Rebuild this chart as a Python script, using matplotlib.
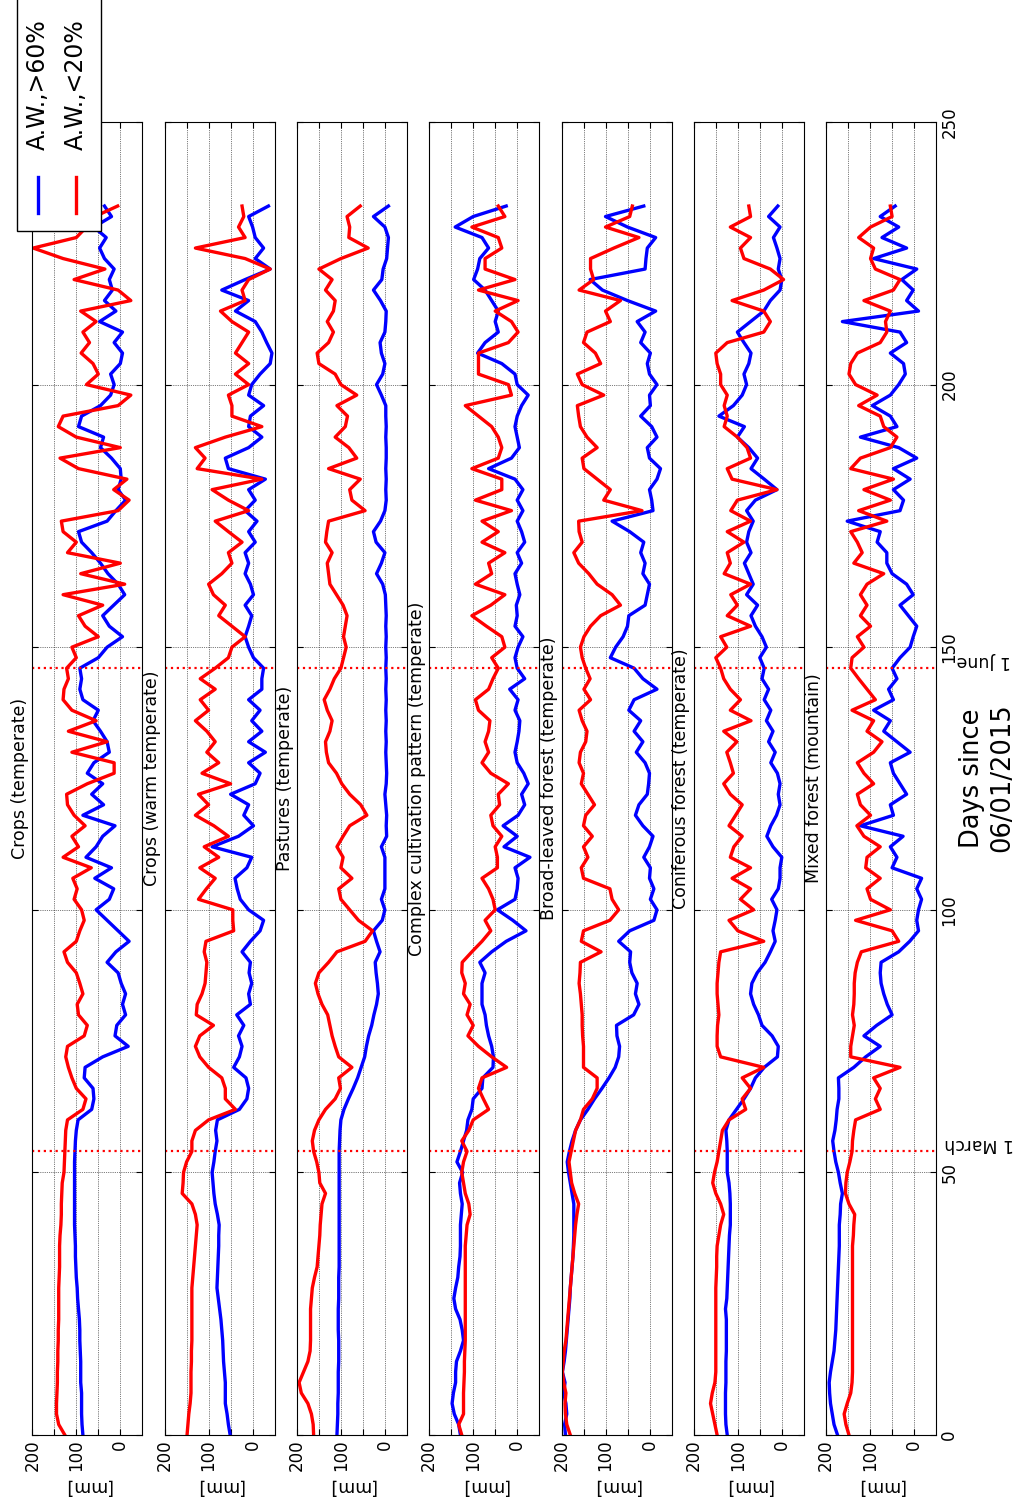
import numpy as np
import matplotlib
matplotlib.use("Agg")
import matplotlib.pyplot as plt
import matplotlib.transforms as mtransforms
from matplotlib.patches import Rectangle
from matplotlib.lines import Line2D

# days since 06/01/2015, one value every 2 days
days = np.arange(0, 235, 2)

titles = ["Crops (temperate)", "Crops (warm temperate)", "Pastures (temperate)",
          "Complex cultivation pattern (temperate)", "Broad-leaved forest (temperate)",
          "Coniferous forest (temperate)", "Mixed forest (mountain)"]
legend_labels = ["A.W.,>60%", "A.W.,<20%"]
march_day = 54
june_day = 146

# [mm] values, blue = A.W.>60%, red = A.W.<20%
crops_temp_hi = [85, 87, 88, 88, 88, 90, 90, 90, 91, 92,
                 92, 93, 95, 97, 98, 100, 101, 102, 102, 103,
                 104, 104, 104, 104, 104, 104, 104, 103, 102, 100,
                 96, 65, 60, 62, 82, 80, 40, -18, 12, 8,
                 -12, -5, -12, -2, 5, 30, 10, -20, 5, 30,
                 55, 25, 15, 58, 20, 78, 55, 40, 12, 85,
                 38, 65, 40, 75, 60, 25, 30, 45, 62, 50,
                 85, 92, 88, 92, 50, 30, -5, 25, 40, 15,
                 -10, 5, 28, 45, 65, 88, 95, 30, 10, -12,
                 5, -2, 0, 20, 45, 38, 95, 88, 45, 22,
                 14, 22, 0, -5, 14, -5, 47, 10, 36, 18,
                 25, 14, 36, 47, 32, 60, 20, 36]
crops_temp_lo = [126, 140, 145, 145, 144, 143, 143, 142, 142, 141,
                 141, 140, 140, 140, 140, 139, 138, 138, 138, 137,
                 135, 134, 134, 133, 132, 128, 127, 126, 125, 124,
                 120, 85, 78, 100, 110, 118, 124, 120, 82, 75,
                 95, 98, 85, 92, 100, 120, 128, 100, 92, 82,
                 88, 105, 98, 108, 66, 130, 95, 110, 80, 105,
                 120, 122, 75, 14, 14, 110, 30, 118, 55, 110,
                 130, 128, 118, 122, 100, 110, 50, 80, 95, 40,
                 130, -10, 90, 0, 120, 100, 130, 134, 5, -20,
                 15, -15, 95, 137, 0, 100, 141, 130, 5, -24,
                 77, 50, 62, 89, 70, 85, 55, 90, -24, 5,
                 105, 35, 130, 198, 100, 77, 58, 6]

crops_warm_hi = [51, 55, 58, 62, 62, 62, 64, 66, 67, 68,
                 70, 72, 75, 78, 81, 80, 79, 78, 77, 77,
                 76, 80, 85, 88, 90, 92, 88, 85, 81, 84,
                 80, 30, 13, 9, 15, 43, 30, 24, 32, 20,
                 36, 5, 9, 2, 8, 5, 24, 5, -17, -25,
                 9, 28, 35, 40, 13, 2, 92, 32, -2, 20,
                 9, 50, -6, -17, 9, -29, 9, -21, 2, -17,
                 9, -21, -21, -25, -2, 9, 17, 9, 2, 17,
                 -2, 5, 17, 9, 17, -6, 9, -10, 17, -6,
                 9, -29, 55, 62, 9, -21, 9, 5, -25, 9,
                 2, -17, -40, -44, -32, -21, -6, 39, 9, 70,
                 17, -40, -6, -25, -6, 0, 9, -36]
crops_warm_lo = [149, 147, 145, 142, 140, 140, 140, 139, 139, 138,
                 138, 138, 138, 138, 138, 136, 134, 132, 130, 128,
                 126, 130, 138, 160, 158, 157, 150, 138, 138, 130,
                 100, 39, 62, 62, 70, 100, 120, 130, 120, 89,
                 128, 126, 115, 108, 106, 104, 110, 106, 43, 45,
                 45, 123, 105, 85, 120, 77, 110, 55, 88, 130,
                 100, 123, 50, 115, 77, 104, 85, 104, 130, 100,
                 119, 85, 119, 85, 55, 47, 17, 47, 77, 62,
                 89, 100, 70, 47, 55, 24, 55, 85, 9, 55,
                 92, -21, 126, 108, 130, 62, -21, 47, 47, 55,
                 9, 39, 9, 39, 24, 9, 47, 73, 17, 24,
                 9, -40, 17, 130, 17, 32, 20, 24]

pastures_hi = [109, 108, 107, 107, 106, 106, 106, 105, 105, 105,
               106, 106, 106, 105, 105, 105, 104, 104, 104, 104,
               104, 104, 104, 104, 104, 104, 104, 104, 103, 102,
               100, 93, 83, 72, 62, 54, 46, 42, 37, 30,
               25, 19, 15, 17, 20, 22, 11, 19, 26, 6,
               0, 8, 0, 0, 0, 0, 8, -4, -3, -4,
               -2, 0, -3, -4, -3, -2, -3, -2, -3, -2,
               -3, -2, -3, -2, -3, -2, -3, -2, -3, -2,
               -1, 5, 19, 8, 0, 20, 26, 10, 0, -3,
               -2, -3, -2, -3, -3, -2, -3, -2, -2, 8,
               19, 5, 0, 8, 11, 0, -2, -3, 10, 26,
               7, 4, -4, -6, -8, 0, 26, -8]
pastures_lo = [162, 163, 167, 175, 190, 195, 185, 175, 170, 169,
               169, 169, 169, 167, 165, 160, 154, 152, 150, 148,
               147, 145, 143, 135, 148, 150, 155, 162, 165, 160,
               150, 135, 113, 101, 105, 75, 105, 113, 120, 125,
               130, 143, 152, 158, 150, 128, 109, 45, 28, 60,
               80, 100, 105, 75, 100, 95, 109, 95, 80, 41,
               55, 80, 98, 110, 128, 133, 135, 125, 120, 131,
               138, 125, 115, 100, 94, 88, 94, 90, 86, 95,
               110, 125, 128, 131, 120, 135, 132, 128, 45, 75,
               80, 56, 128, 64, 82, 113, 90, 85, 109, 64,
               100, 113, 150, 154, 128, 117, 131, 117, 113, 135,
               120, 150, 100, 38, 82, 80, 86, 56]

complex_hi = [129, 133, 143, 148, 145, 140, 140, 138, 129, 122,
              125, 130, 140, 144, 140, 135, 133, 130, 129, 129,
              129, 127, 125, 129, 131, 124, 137, 129, 122, 115,
              112, 103, 100, 80, 78, 55, 54, 58, 65, 70,
              73, 80, 80, 80, 73, 85, 58, 25, -20, 10,
              45, 5, 0, -2, 5, -29, 30, 0, 32, -2,
              -17, -10, -25, -15, 0, 5, 0, -4, -6, 5,
              -2, 17, -17, 0, 5, -2, -13, 5, 0, 2,
              -6, 0, 5, -10, 0, -17, -10, 0, -13, 0,
              -13, 5, 65, 13, -5, 0, 5, 0, -10, -25,
              0, 5, 35, 90, 73, 43, 50, 43, 58, 73,
              99, 90, 85, 65, 80, 141, 100, 25]
complex_lo = [126, 133, 122, 122, 122, 121, 120, 120, 119, 118,
              118, 118, 118, 118, 118, 118, 118, 118, 118, 116,
              114, 107, 110, 118, 122, 126, 122, 114, 126, 110,
              100, 65, 77, 88, 80, 24, 58, 88, 112, 100,
              114, 107, 122, 118, 126, 125, 103, 80, 60, 73,
              50, 55, 65, 80, 45, 45, 50, 35, 55, 60,
              40, 43, 20, 60, 80, 65, 73, 65, 62, 88,
              95, 65, 55, 43, 58, 28, 35, 70, 103, 60,
              28, 95, 58, 65, 28, 80, 43, 80, 13, 95,
              35, 35, 103, 43, 35, 43, 58, 88, 118, 13,
              20, 88, 88, 88, 20, -2, 13, 50, -2, 88,
              5, 73, 73, 35, 43, 103, 28, 43]

broadleaf_hi = [191, 193, 188, 190, 195, 192, 198, 194, 191, 189,
                187, 185, 183, 181, 180, 178, 176, 174, 173, 172,
                172, 172, 172, 176, 180, 184, 187, 182, 176, 168,
                157, 140, 125, 108, 92, 78, 70, 68, 74, 75,
                36, 24, 32, 28, 40, 45, 43, 70, 45, -10,
                -17, -2, -10, 0, -2, 13, 0, -8, 15, 32,
                24, 5, 2, 0, 10, 30, 15, 35, 20, 47,
                35, -17, 15, 35, 89, 77, 60, 50, 47, 10,
                5, 0, 15, 10, 20, 13, 45, 85, -8, -5,
                0, -17, -25, 0, 5, -17, -5, 20, -2, 0,
                -17, 0, 5, -2, 20, 10, 28, -14, 50, 107,
                135, 10, 8, 5, -14, 50, 100, 13]
broadleaf_lo = [180, 188, 191, 192, 190, 195, 198, 196, 194, 190,
                188, 186, 184, 182, 180, 178, 176, 174, 172, 170,
                168, 165, 161, 170, 177, 180, 183, 178, 173, 168,
                157, 150, 130, 119, 119, 150, 150, 150, 152, 153,
                153, 155, 157, 160, 158, 157, 110, 155, 150, 90,
                70, 85, 90, 150, 155, 140, 150, 130, 150, 145,
                125, 140, 155, 150, 160, 157, 145, 142, 153, 160,
                134, 149, 135, 145, 153, 157, 149, 134, 111, 66,
                85, 119, 138, 161, 172, 153, 160, 161, 17, 104,
                89, 119, 149, 153, 119, 142, 157, 161, 164, 104,
                153, 164, 111, 123, 150, 142, 89, 100, 66, 160,
                127, 134, 134, 81, 24, 100, 45, 39]

conif_hi = [124, 127, 128, 128, 128, 127, 127, 127, 126, 126,
            126, 126, 128, 125, 124, 123, 122, 121, 120, 119,
            117, 117, 117, 118, 120, 124, 124, 124, 125, 127,
            120, 103, 86, 71, 60, 40, 10, 8, 22, 45,
            53, 64, 71, 68, 56, 38, 26, 15, 20, 15,
            11, 23, 8, 4, 4, 0, 20, 34, 25, 12,
            4, 8, 4, 10, 25, 15, 30, 20, 35, 25,
            40, 30, 45, 40, 50, 35, 45, 60, 70, 55,
            80, 65, 75, 85, 70, 80, 75, 65, 80, 60,
            11, 40, 70, 55, 75, 101, 85, 143, 110, 90,
            80, 86, 75, 70, 86, 101, 71, 41, 26, 4,
            0, 8, 4, 11, 19, 4, 30, 9]
conif_lo = [147, 152, 157, 162, 158, 152, 150, 150, 150, 150,
            150, 150, 150, 150, 150, 149, 148, 148, 147, 143,
            139, 132, 139, 150, 157, 153, 147, 143, 139, 135,
            120, 82, 90, 71, 90, 41, 139, 147, 147, 146,
            143, 145, 147, 147, 145, 143, 139, 41, 100, 120,
            64, 94, 71, 113, 71, 117, 109, 90, 120, 105,
            90, 117, 132, 110, 117, 125, 102, 132, 70, 117,
            94, 117, 132, 139, 150, 125, 139, 71, 124, 101,
            116, 71, 131, 117, 124, 86, 124, 71, 116, 101,
            11, 113, 124, 71, 79, 101, 131, 124, 131, 124,
            139, 139, 147, 150, 124, 41, 26, 41, 113, 41,
            -4, 26, 86, 94, 71, 117, 71, 75]

mixed_hi = [174, 182, 186, 190, 192, 193, 190, 186, 182, 180,
            178, 177, 176, 175, 174, 173, 172, 171, 170, 170,
            170, 168, 167, 163, 168, 172, 178, 182, 185, 180,
            177, 175, 171, 171, 172, 137, 110, 77, 114, 85,
            50, 61, 69, 75, 77, 75, 35, 10, -10, -6,
            -10, -17, -6, -17, 50, 39, 54, 25, 122, 47,
            54, 17, 32, 47, 54, 9, 39, 69, 54, 92,
            47, 58, 39, 50, 32, 9, 2, -6, 13, 32,
            2, 17, 50, 62, 62, 84, 77, 152, 32, 24,
            47, 9, 47, -6, 35, 122, 39, 54, 95, 54,
            35, 20, 24, 54, 17, 32, 163, -10, 17, 2,
            28, -6, 92, 17, 73, 35, 77, 43]
mixed_lo = [148, 155, 159, 152, 144, 141, 140, 140, 140, 140,
            140, 140, 140, 140, 140, 140, 140, 140, 140, 138,
            137, 135, 148, 156, 155, 152, 146, 141, 140, 137,
            133, 77, 88, 77, 92, 32, 144, 144, 140, 136,
            140, 137, 136, 136, 134, 129, 120, 35, 50, 133,
            54, 99, 107, 77, 110, 107, 77, 114, 130, 99,
            122, 129, 92, 114, 129, 92, 73, 107, 92, 141,
            88, 107, 126, 144, 141, 114, 129, 99, 122, 107,
            122, 107, 69, 137, 118, 129, 144, 62, 126, 54,
            114, 47, 144, 122, 54, 39, 69, 77, 126, 84,
            133, 148, 144, 129, 77, 62, 65, 54, 114, 47,
            32, 88, 99, 92, 126, 99, 50, 54]

pairs = [(crops_temp_hi, crops_temp_lo), (crops_warm_hi, crops_warm_lo),
         (pastures_hi, pastures_lo), (complex_hi, complex_lo),
         (broadleaf_hi, broadleaf_lo), (conif_hi, conif_lo), (mixed_hi, mixed_lo)]
mm_top = [200, 200, 200, 199, 200, 200, 200]

W, H = 1026, 1503
fig = plt.figure(figsize=(W / 100, H / 100), dpi=100)
fig.patch.set_facecolor("white")

axes = []
for i, (title, (hi, lo)) in enumerate(zip(titles, pairs)):
    left = 32.3 + i * 132.3
    ax = fig.add_axes([left / W, 68 / H, 110 / W, 1313 / H])
    ax.plot(hi, days, color="b", lw=2.4)
    ax.plot(lo, days, color="r", lw=2.4)
    ax.axhline(march_day, color="r", ls=":", lw=1.6)
    ax.axhline(june_day, color="r", ls=":", lw=1.6)
    ax.set_xlim(mm_top[i], -50)
    ax.set_ylim(0, 250)
    ax.set_xticks([0, 50, 100, 150, 200])
    ax.set_xticklabels(["0", "", "100", "", "200"], rotation=90, fontsize=12)
    ax.set_yticks(range(0, 251, 50))
    ax.grid(True, color="k", ls=":", lw=0.5)
    ax.tick_params(direction="in", top=True, right=True, length=4, width=0.8)
    ax.tick_params(axis="y", pad=3)
    ax.set_xlabel("[mm]", rotation=180, fontsize=12.5)
    ax.text(-0.03, 0.5, title, transform=ax.transAxes, rotation=90,
            ha="right", va="center", fontsize=12.5)
    if i < 6:
        ax.set_yticklabels([])
    else:
        ax.tick_params(labelleft=False, labelright=True, labelsize=12)
        for lab in ax.get_yticklabels():
            lab.set_rotation(90)
            lab.set_va("center")
    axes.append(ax)

ax7 = axes[-1]
trans = mtransforms.blended_transform_factory(ax7.transAxes, ax7.transData)
ax7.text((944 - 826) / 110, 55.4, "1 March", transform=trans, rotation=180,
         ha="left", va="center", fontsize=12.5)
ax7.text((956 - 826) / 110, 147.4, "1 June", transform=trans, rotation=180,
         ha="left", va="center", fontsize=12.5)

fig.text(987 / W, 1 - 778 / H, "Days since\n06/01/2015", rotation=90,
         ha="center", va="center", fontsize=18.5, multialignment="center")

# legend box, drawn rotated like the rest of the page
fig.add_artist(Rectangle((17 / W, 1 - 231 / H), 84 / W, 240 / H, transform=fig.transFigure,
                         facecolor="white", edgecolor="k", lw=1, zorder=5))
for x, color, label in [(38, "b", legend_labels[0]), (76, "r", legend_labels[1])]:
    fig.add_artist(Line2D([x / W, x / W], [1 - 213 / H, 1 - 177 / H], transform=fig.transFigure,
                          color=color, lw=2.4, zorder=6))
    fig.text(x / W, 1 - 150 / H, label, rotation=90, ha="center", va="bottom",
             fontsize=17, zorder=6)

fig.savefig("out.png", dpi=100, facecolor="white")
